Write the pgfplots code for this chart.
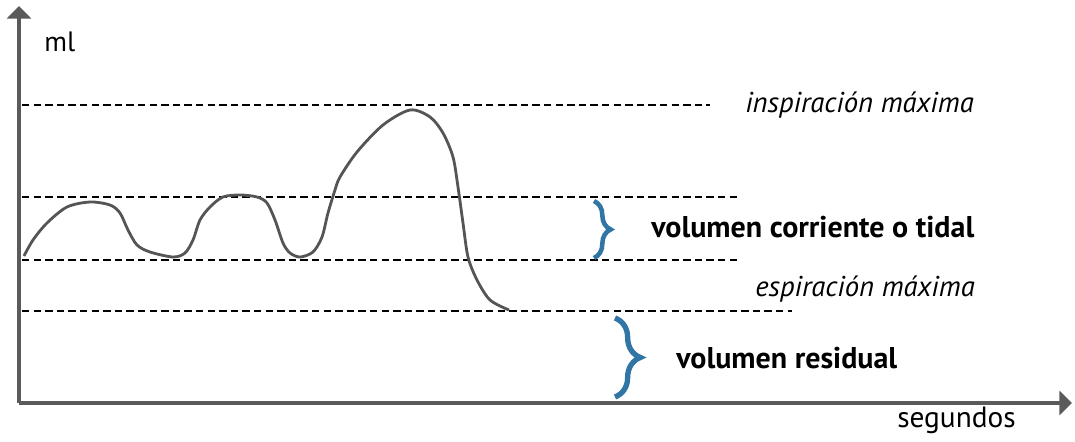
\documentclass[border=0pt]{standalone}
\usepackage{fontspec}
\setmainfont{PT Sans}
\usepackage{pgfplots}
\pgfplotsset{compat=1.18}
\usetikzlibrary{arrows.meta,decorations.pathreplacing}
\definecolor{axisgray}{RGB}{90,90,90}
\definecolor{curvegray}{RGB}{85,85,85}
\definecolor{braceblue}{RGB}{49,117,165}

\begin{document}
\begin{tikzpicture}
\begin{axis}[
    x=0.75pt, y=0.75pt,
    xmin=19, xmax=1072,
    ymin=39, ymax=436,
    axis lines=left,
    axis line style={draw=axisgray, line width=2.4pt, -{Triangle[width=18pt,length=9.5pt]}},
    xtick=\empty, ytick=\empty,
    clip=false,
]
% keep the page the size of the reference (1075 x 442 px)
\path (axis cs:0,0) rectangle (axis cs:1075,442);

% reference levels
\addplot[black, line width=2.2pt, dash pattern=on 5.6pt off 3.1pt] coordinates {(22,337) (710,337)};
\addplot[black, line width=2.2pt, dash pattern=on 5.6pt off 3.1pt] coordinates {(22,245) (741,245)};
\addplot[black, line width=2.2pt, dash pattern=on 5.6pt off 3.1pt] coordinates {(22,182) (741,182)};
\addplot[black, line width=2.2pt, dash pattern=on 5.6pt off 3.1pt] coordinates {(22,131) (792,131)};

% spirometry trace
\addplot[curvegray, line width=2.1pt, smooth, tension=0.5] coordinates {
  (24,186) (33,202) (47,219) (67,235) (90,240) (110,237) (120,229) (128,212)
  (137,197) (150,190) (173,185) (185,189) (193,202) (200,222) (210,235)
  (223,245) (240,247) (257,245) (267,239) (275,222) (283,199) (290,189)
  (300,185) (313,190) (322,205) (328,229) (335,252) (340,265) (357,290)
  (383,317) (410,332) (430,325) (443,309) (453,285) (458,255) (463,219)
  (468,185) (477,162) (490,142) (509,132)
};

% braces
\draw[braceblue, line width=3.4pt, decorate, decoration={brace, amplitude=12.5pt}]
  (axis cs:594,241) -- (axis cs:594,184);
\draw[braceblue, line width=4pt, decorate, decoration={brace, amplitude=19pt}]
  (axis cs:615,124) -- (axis cs:615,45);

% labels
\begin{scope}[every node/.style={inner sep=0pt}]
\node[anchor=base west, font=\fontsize{21}{24}\selectfont] at (axis cs:44,390) {ml};
\node[anchor=base west, font=\fontsize{22}{26}\selectfont] at (axis cs:897,14) {segundos};
\node[anchor=base east, font=\itshape\fontsize{21.5}{25}\selectfont] at (axis cs:974,329) {inspiración máxima};
\node[anchor=base east, font=\itshape\fontsize{21.5}{25}\selectfont] at (axis cs:975,145) {espiración máxima};
\node[anchor=base west, font=\bfseries\fontsize{22.5}{26}\selectfont] at (axis cs:651,204) {volumen corriente o tidal};
\node[anchor=base west, font=\bfseries\fontsize{22.5}{26}\selectfont] at (axis cs:676,73) {volumen residual};
\end{scope}
\end{axis}
\end{tikzpicture}
\end{document}
